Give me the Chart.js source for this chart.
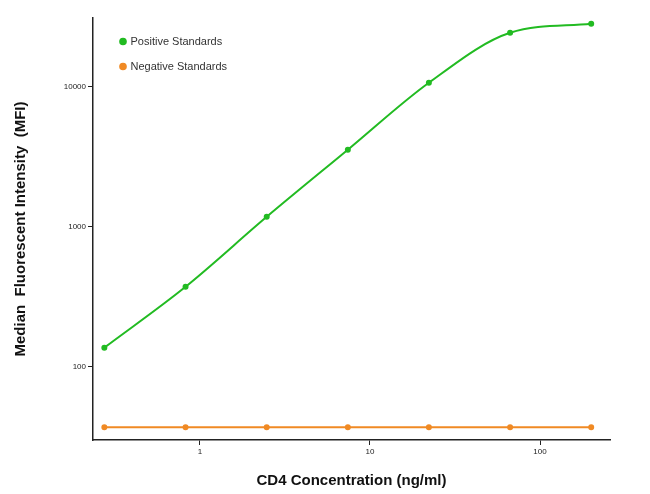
<!DOCTYPE html>
<html><head><script src="https://cdn.jsdelivr.net/npm/chart.js@4"></script>
<style>body{margin:0;background:#fff}#w{width:650px;height:494px}</style></head>
<body><div id="w"><canvas id="c"></canvas></div>
<script>
const conc=[0.274,0.823,2.47,7.41,22.2,66.7,200];
const positive=[137,373,1178,3550,10680,24300,28200];
const negative=[37,37,37,37,37,37,37];
const xTicks=[1,10,100];
const yTicks=[100,1000,10000];
const pts=a=>a.map((v,i)=>({x:conc[i],y:v}));
new Chart(document.getElementById('c'),{
type:'line',
data:{datasets:[
{label:'Positive Standards',data:pts(positive),borderColor:'#22bb22',backgroundColor:'#22bb22',borderWidth:2,pointRadius:2,cubicInterpolationMode:'monotone'},
{label:'Negative Standards',data:pts(negative),borderColor:'#f08a24',backgroundColor:'#f08a24',borderWidth:2,pointRadius:2}
]},
options:{responsive:true,maintainAspectRatio:false,animation:false,
layout:{padding:{top:18,right:40,left:8}},
plugins:{legend:{position:'chartArea',align:'start',labels:{usePointStyle:true,pointStyle:'circle',boxWidth:4,boxHeight:4,font:{family:'Liberation Sans',size:11},color:'#333',padding:14},
 onClick:null},tooltip:{enabled:false}},
scales:{
x:{type:'logarithmic',min:0.235,max:258,grid:{display:true,drawOnChartArea:false,drawTicks:true,tickLength:5,color:'#222'},border:{color:'#222',width:1.5},
afterBuildTicks:s=>{s.ticks=xTicks.map(v=>({value:v}))},
ticks:{callback:v=>String(v),font:{family:'Liberation Sans',size:8},color:'#222',maxRotation:0,padding:2},
title:{display:true,text:'CD4 Concentration (ng/ml)',font:{family:'Liberation Sans',size:15,weight:'bold'},color:'#111',padding:{top:10}},
afterFit:s=>{s.height=54}},
y:{type:'logarithmic',min:30,max:31000,grid:{display:true,drawOnChartArea:false,drawTicks:true,tickLength:5,color:'#222'},border:{color:'#222',width:1.5},
afterBuildTicks:s=>{s.ticks=yTicks.map(v=>({value:v}))},
ticks:{callback:v=>String(v),font:{family:'Liberation Sans',size:8},color:'#222',padding:2},
title:{display:true,text:'Median  Fluorescent Intensity  (MFI)',font:{family:'Liberation Sans',size:15,weight:'bold'},color:'#111'},
afterFit:s=>{s.width=85}}
}},
plugins:[{id:'legendShift',beforeDraw(ch){const l=ch.legend;if(l&&!l._shifted){l._shifted=true;l.left+=14;l.top+=22;l.legendHitBoxes.forEach(b=>{b.left+=14;b.top+=22;});}}}]
});
</script></body></html>
